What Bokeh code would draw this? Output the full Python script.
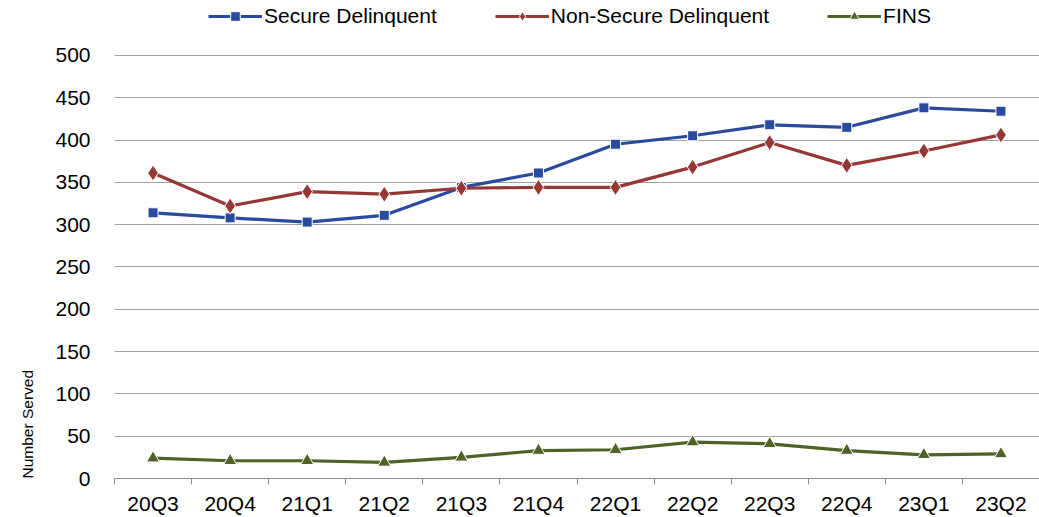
from bokeh.plotting import figure
from bokeh.models import (Range1d, FixedTicker, Legend, LegendItem, Title)
from bokeh.embed import file_html
from bokeh.resources import INLINE

quarters = ["20Q3", "20Q4", "21Q1", "21Q2", "21Q3", "21Q4",
            "22Q1", "22Q2", "22Q3", "22Q4", "23Q1", "23Q2"]
secure = [314, 308, 303, 311, 344, 361, 395, 405, 418, 415, 438, 434]
non_secure = [361, 322, 339, 336, 343, 344, 344, 368, 397, 370, 387, 406]
fins = [24, 21, 21, 19, 25, 33, 34, 43, 41, 33, 28, 29]
y_ticks = [0, 50, 100, 150, 200, 250, 300, 350, 400, 450, 500]

BLUE = "#2A4A9D"
RED = "#953735"
GREEN = "#4F6228"
FONT = "Liberation Sans"
FS = "21px"

xs = list(range(len(quarters)))

# frame spans the full height above the x axis; 0..500 occupies 424 px,
# the space above 500 holds the legend
PX_PER_UNIT = 424 / 500
FRAME_H = 479

p = figure(width=1039, height=517, output_backend="svg", toolbar_location=None,
           x_range=Range1d(-0.5, len(quarters) - 0.5),
           y_range=Range1d(0, FRAME_H / PX_PER_UNIT),
           min_border_left=114, min_border_right=0, min_border_top=0,
           min_border_bottom=38)
p.outline_line_color = None
p.background_fill_color = "white"
p.border_fill_color = "white"

# grid
p.xgrid.grid_line_color = None
p.ygrid.grid_line_color = "#A0A0A0"
p.ygrid.grid_line_width = 1
p.ygrid.ticker = FixedTicker(ticks=y_ticks)

# y axis
p.yaxis.ticker = FixedTicker(ticks=y_ticks)
p.yaxis.axis_line_color = None
p.yaxis.major_tick_line_color = None
p.yaxis.minor_tick_line_color = None
p.yaxis.major_tick_out = 0
p.yaxis.major_tick_in = 0
p.yaxis.major_label_standoff = 24
p.yaxis.major_label_text_font = FONT
p.yaxis.major_label_text_font_size = FS
p.yaxis.major_label_text_color = "#000000"

# x axis
p.xaxis.ticker = FixedTicker(ticks=xs, minor_ticks=[i - 0.5 for i in range(len(quarters) + 1)])
p.xaxis.major_label_overrides = {i: q for i, q in enumerate(quarters)}
p.xaxis.axis_line_color = "#8C8C8C"
p.xaxis.axis_line_width = 1
p.xaxis.major_tick_line_color = None
p.xaxis.major_tick_out = 0
p.xaxis.major_tick_in = 0
p.xaxis.minor_tick_line_color = "#8C8C8C"
p.xaxis.minor_tick_out = 6
p.xaxis.minor_tick_in = 0
p.xaxis.major_label_standoff = 7
p.xaxis.major_label_text_font = FONT
p.xaxis.major_label_text_font_size = FS
p.xaxis.major_label_text_color = "#000000"

# series
l1 = p.line(xs, secure, line_color=BLUE, line_width=3.2)
s1 = p.scatter(xs, secure, marker="square", size=10, fill_color=BLUE,
               line_color="white", line_width=1)
l2 = p.line(xs, non_secure, line_color=RED, line_width=3.2)
s2 = p.scatter(xs, non_secure, marker="diamond", size=16,
               fill_color=RED, line_color="white", line_width=1)
l3 = p.line(xs, fins, line_color=GREEN, line_width=3.2)
s3 = p.scatter(xs, fins, marker="triangle", size=13, fill_color=GREEN,
               line_color="white", line_width=1)

legend = Legend(items=[
    LegendItem(label="Secure Delinquent", renderers=[l1, s1]),
    LegendItem(label="Non-Secure Delinquent", renderers=[l2, s2]),
    LegendItem(label="FINS", renderers=[l3, s3]),
], orientation="horizontal", location=(94, 450), margin=0, padding=0,
    spacing=58, glyph_width=54, glyph_height=24, label_height=24,
    label_standoff=2, label_text_font=FONT, label_text_font_size=FS,
    label_text_color="#000000", border_line_color=None,
    background_fill_alpha=0)
p.add_layout(legend, "center")

p.add_layout(Title(text="Number Served", align="left", standoff=30,
                   vertical_align="top",
                   text_font=FONT, text_font_size="15.5px", text_font_style="normal",
                   text_color="#000000"), "left")

open("out.html", "w").write(file_html(p, INLINE))
